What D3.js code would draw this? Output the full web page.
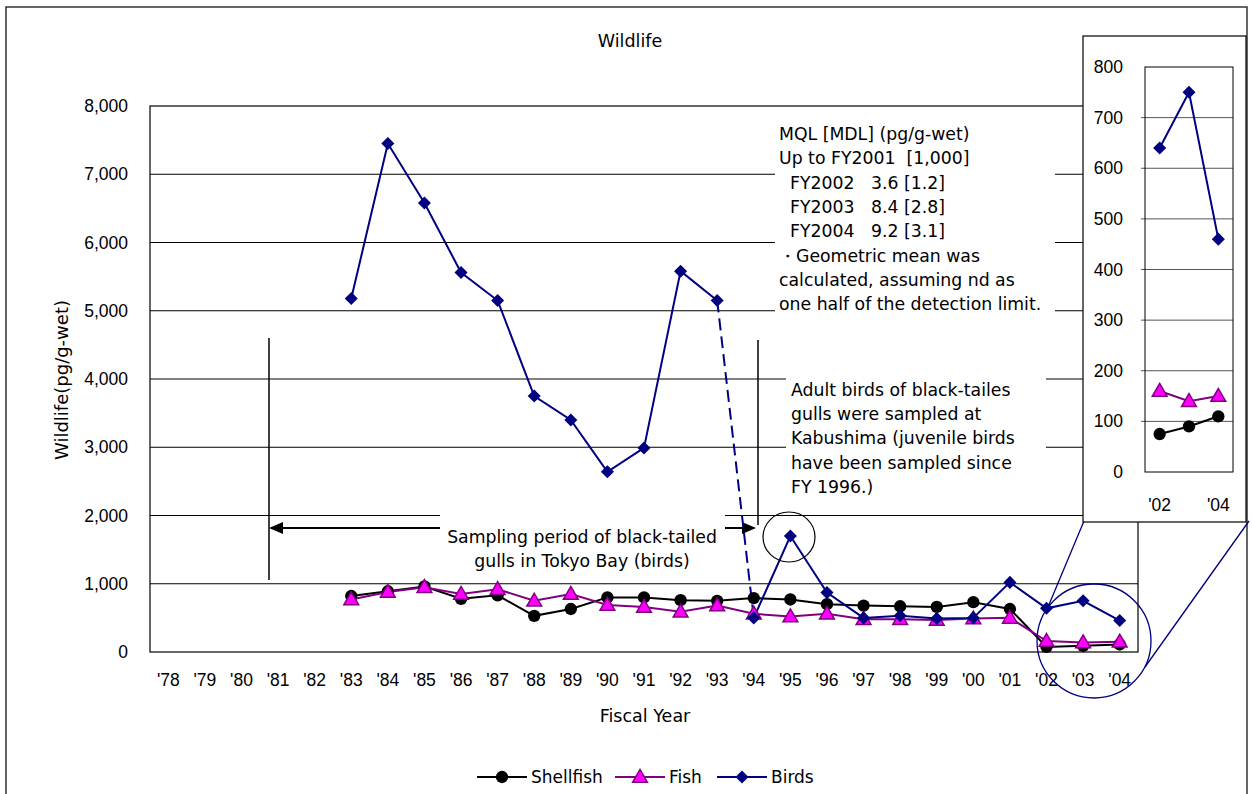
<!DOCTYPE html>
<html>
<head>
<meta charset="utf-8">
<script src="https://cdn.jsdelivr.net/npm/d3@7"></script>
<style>
  body { margin: 0; background: #fff; }
</style>
</head>
<body>
<script>
// fiscal years shown on the x axis
const years = ["78","79","80","81","82","83","84","85","86","87","88","89","90","91","92","93","94","95","96","97","98","99","00","01","02","03","04"];
// data years ('83 - '04)
const dataYears = ["83","84","85","86","87","88","89","90","91","92","93","94","95","96","97","98","99","00","01","02","03","04"];
const shellfish = [820, 890, 960, 780, 830, 530, 630, 800, 800, 760, 750, 790, 770, 700, 680, 670, 660, 730, 630, 75, 90, 110];
const fish      = [770, 880, 950, 850, 920, 750, 850, 690, 660, 590, 680, 560, 520, 560, 480, 480, 470, 490, 500, 160, 140, 150];
const birds     = [5180, 7450, 6580, 5560, 5150, 3750, 3400, 2640, 2990, 5580, 5150, 500, 1700, 870, 500, 530, 490, 500, 1020, 640, 750, 460];
const yTicks = [0, 1000, 2000, 3000, 4000, 5000, 6000, 7000, 8000];
const insetYears = ["02","03","04"];
const insetTicks = [0, 100, 200, 300, 400, 500, 600, 700, 800];

const notes1 = ["MQL [MDL] (pg/g-wet)", "Up to FY2001  [1,000]", "  FY2002   3.6 [1.2]", "  FY2003   8.4 [2.8]", "  FY2004   9.2 [3.1]", "\u30FBGeometric mean was", "calculated, assuming nd as", "one half of the detection limit."];
const notes2 = ["Adult birds of black-tailes", "gulls were sampled at", "Kabushima (juvenile birds", "have been sampled since", "FY 1996.)"];

const txt = "'DejaVu Sans', sans-serif";
const num = "'Liberation Sans', Arial, sans-serif";

const svg = d3.select("body").append("svg")
  .attr("width", 1252)
  .attr("height", 794);

svg.append("rect")
  .attr("x", 6).attr("y", 7)
  .attr("width", 1241).attr("height", 800)
  .attr("fill", "white")
  .attr("stroke", "#333")
  .attr("stroke-width", 1.5);

const x = d3.scaleBand().domain(years).range([150, 1138]);
const y = d3.scaleLinear().domain([0, 8000]).range([652, 106]);
const cx = d => x(d) + x.bandwidth() / 2;

// gridlines
svg.append("g").selectAll("line")
  .data(yTicks.slice(1, -1))
  .enter().append("line")
  .attr("x1", 150).attr("x2", 1138)
  .attr("y1", d => y(d)).attr("y2", d => y(d))
  .attr("stroke", "#000").attr("stroke-width", 1);

svg.append("rect")
  .attr("x", 150).attr("y", y(8000))
  .attr("width", 988).attr("height", y(0) - y(8000))
  .attr("fill", "none").attr("stroke", "#000").attr("stroke-width", 1.2);

// y axis labels
const yAxis = svg.append("g")
  .attr("transform", "translate(150,0)")
  .call(d3.axisLeft(y).tickValues(yTicks).tickFormat(d3.format(",")).tickSize(0).tickPadding(22));
yAxis.select(".domain").remove();
yAxis.selectAll("text").attr("font-family", num).attr("font-size", "17.5px").attr("fill", "#000");

// x axis labels
const xAxis = svg.append("g")
  .attr("transform", "translate(0,652)")
  .call(d3.axisBottom(x).tickFormat(d => "'" + d).tickSize(0).tickPadding(22));
xAxis.select(".domain").remove();
xAxis.selectAll("text").attr("font-family", num).attr("font-size", "17.5px").attr("fill", "#000");

svg.append("text")
  .attr("x", 630).attr("y", 47)
  .attr("text-anchor", "middle")
  .attr("font-family", txt).attr("font-size", "17.5px")
  .text("Wildlife");

svg.append("text")
  .attr("transform", "translate(68,380) rotate(-90)")
  .attr("text-anchor", "middle")
  .attr("font-family", txt).attr("font-size", "18px")
  .text("Wildlife(pg/g-wet)");

svg.append("text")
  .attr("x", 645).attr("y", 722)
  .attr("text-anchor", "middle")
  .attr("font-family", txt).attr("font-size", "17.5px")
  .text("Fiscal Year");

// annotation boxes
svg.append("rect").attr("x", 775).attr("y", 118).attr("width", 280).attr("height", 200).attr("fill", "white");
svg.append("g").selectAll("text")
  .data(notes1).enter().append("text")
  .attr("x", 779).attr("y", (d, i) => 140 + i * 24.3)
  .attr("xml:space", "preserve")
  .style("white-space", "pre")
  .attr("font-family", txt).attr("font-size", "17.3px")
  .text(d => d);

svg.append("rect").attr("x", 786).attr("y", 372).attr("width", 260).attr("height", 125).attr("fill", "white");
svg.append("g").selectAll("text")
  .data(notes2).enter().append("text")
  .attr("x", 791).attr("y", (d, i) => 396 + i * 24.2)
  .attr("font-family", txt).attr("font-size", "17.3px")
  .text(d => d);

// sampling period arrow
svg.append("line").attr("x1", 269).attr("x2", 269).attr("y1", 338).attr("y2", 580).attr("stroke", "#000").attr("stroke-width", 1.5);
svg.append("line").attr("x1", 758).attr("x2", 758).attr("y1", 340).attr("y2", 525).attr("stroke", "#000").attr("stroke-width", 1.5);
svg.append("rect").attr("x", 440).attr("y", 505).attr("width", 285).attr("height", 44).attr("fill", "white");
svg.append("line").attr("x1", 280).attr("x2", 440).attr("y1", 528).attr("y2", 528).attr("stroke", "#000").attr("stroke-width", 2);
svg.append("line").attr("x1", 725).attr("x2", 745).attr("y1", 528).attr("y2", 528).attr("stroke", "#000").attr("stroke-width", 2);
svg.append("path").attr("d", "M269,528 L283,522 L283,534 Z").attr("fill", "#000");
svg.append("path").attr("d", "M756,528 L742,522 L742,534 Z").attr("fill", "#000");
svg.append("text").attr("x", 582).attr("y", 543).attr("text-anchor", "middle")
  .attr("font-family", txt).attr("font-size", "17.3px").text("Sampling period of black-tailed");
svg.append("text").attr("x", 582).attr("y", 567).attr("text-anchor", "middle")
  .attr("font-family", txt).attr("font-size", "17.3px").text("gulls in Tokyo Bay (birds)");

// series
const toPts = vals => vals.map((v, i) => ({ yr: dataYears[i], v: v }));
const line = d3.line().x(d => cx(d.yr)).y(d => y(d.v));

const sPts = toPts(shellfish), fPts = toPts(fish), bPts = toPts(birds);

svg.append("path").datum(sPts).attr("d", line).attr("fill", "none").attr("stroke", "#000").attr("stroke-width", 2);
svg.append("path").datum(fPts).attr("d", line).attr("fill", "none").attr("stroke", "#800080").attr("stroke-width", 2);
svg.append("path").datum(bPts.slice(0, 11)).attr("d", line).attr("fill", "none").attr("stroke", "#000080").attr("stroke-width", 2);
svg.append("path").datum(bPts.slice(10, 12)).attr("d", line).attr("fill", "none").attr("stroke", "#000080").attr("stroke-width", 2).attr("stroke-dasharray", "12,6");
svg.append("path").datum(bPts.slice(11)).attr("d", line).attr("fill", "none").attr("stroke", "#000080").attr("stroke-width", 2);

const circleSym = d3.symbol().type(d3.symbolCircle).size(120);
const triSym = d3.symbol().type(d3.symbolTriangle).size(95);
const diaSym = d3.symbol().type(d3.symbolSquare).size(85);

function markers(g, pts, xf, yf, kind) {
  const sel = g.selectAll(null).data(pts).enter().append("path");
  if (kind === "c") {
    sel.attr("d", circleSym).attr("fill", "#000")
      .attr("transform", d => `translate(${xf(d.yr)},${yf(d.v)})`);
  } else if (kind === "t") {
    sel.attr("d", triSym).attr("fill", "#ff00ff").attr("stroke", "#800080").attr("stroke-width", 1.5)
      .attr("transform", d => `translate(${xf(d.yr)},${yf(d.v) + 1})`);
  } else {
    sel.attr("d", diaSym).attr("fill", "#000080")
      .attr("transform", d => `translate(${xf(d.yr)},${yf(d.v)}) rotate(45)`);
  }
}
const mg = svg.append("g");
markers(mg, sPts, d => cx(d), y, "c");
markers(mg, fPts, d => cx(d), y, "t");
markers(mg, bPts, d => cx(d), y, "d");

// highlight circles and connectors
svg.append("ellipse").attr("cx", 789).attr("cy", 537).attr("rx", 26).attr("ry", 25)
  .attr("fill", "none").attr("stroke", "#000").attr("stroke-width", 1.2);
svg.append("circle").attr("cx", 1094).attr("cy", 641).attr("r", 57)
  .attr("fill", "none").attr("stroke", "#000080").attr("stroke-width", 1.3);
svg.append("line").attr("x1", 1084).attr("y1", 521).attr("x2", 1048).attr("y2", 607).attr("stroke", "#000080").attr("stroke-width", 1.3);
svg.append("line").attr("x1", 1249).attr("y1", 521).attr("x2", 1145).attr("y2", 667).attr("stroke", "#000080").attr("stroke-width", 1.3);

// inset
svg.append("rect").attr("x", 1083).attr("y", 36).attr("width", 163).attr("height", 486)
  .attr("fill", "white").attr("stroke", "#000").attr("stroke-width", 1.2);
const xi = d3.scaleBand().domain(insetYears).range([1145, 1233]);
const yi = d3.scaleLinear().domain([0, 800]).range([472, 67]);
const cxi = d => xi(d) + xi.bandwidth() / 2;

svg.append("g").selectAll("line")
  .data(insetTicks.slice(1, -1)).enter().append("line")
  .attr("x1", 1141).attr("x2", 1233)
  .attr("y1", d => yi(d)).attr("y2", d => yi(d))
  .attr("stroke", "#555").attr("stroke-width", 1);
svg.append("rect").attr("x", 1145).attr("y", 67).attr("width", 88).attr("height", 405)
  .attr("fill", "none").attr("stroke", "#000").attr("stroke-width", 1);

const yiAxis = svg.append("g").attr("transform", "translate(1145,0)")
  .call(d3.axisLeft(yi).tickValues(insetTicks).tickSize(0).tickPadding(22));
yiAxis.select(".domain").remove();
yiAxis.selectAll("text").attr("font-family", num).attr("font-size", "17.5px").attr("fill", "#000");

const xiAxis = svg.append("g").attr("transform", "translate(0,472)")
  .call(d3.axisBottom(xi).tickValues(["02", "04"]).tickFormat(d => "'" + d).tickSize(0).tickPadding(27));
xiAxis.select(".domain").remove();
xiAxis.selectAll("text").attr("font-family", num).attr("font-size", "17.5px").attr("fill", "#000");

const lineI = d3.line().x(d => cxi(d.yr)).y(d => yi(d.v));
const sI = sPts.slice(-3), fI = fPts.slice(-3), bI = bPts.slice(-3);
svg.append("path").datum(sI).attr("d", lineI).attr("fill", "none").attr("stroke", "#000").attr("stroke-width", 2);
svg.append("path").datum(fI).attr("d", lineI).attr("fill", "none").attr("stroke", "#800080").attr("stroke-width", 2);
svg.append("path").datum(bI).attr("d", lineI).attr("fill", "none").attr("stroke", "#000080").attr("stroke-width", 2);
const mi = svg.append("g");
markers(mi, sI, d => cxi(d), yi, "c");
markers(mi, fI, d => cxi(d), yi, "t");
markers(mi, bI, d => cxi(d), yi, "d");

// legend
const legend = [
  { name: "Shellfish", color: "#000", kind: "c", x: 477 },
  { name: "Fish", color: "#800080", kind: "t", x: 615 },
  { name: "Birds", color: "#000080", kind: "d", x: 717 }
];
legend.forEach(l => {
  const g = svg.append("g");
  g.append("line").attr("x1", l.x).attr("x2", l.x + 50).attr("y1", 777).attr("y2", 777)
    .attr("stroke", l.color).attr("stroke-width", 2);
  markers(g, [{ yr: l.x + 25, v: 777 }], d => d, d => d, l.kind);
  g.append("text").attr("x", l.x + 54).attr("y", 783)
    .attr("font-family", txt).attr("font-size", "17px").text(l.name);
});
</script>
</body>
</html>
